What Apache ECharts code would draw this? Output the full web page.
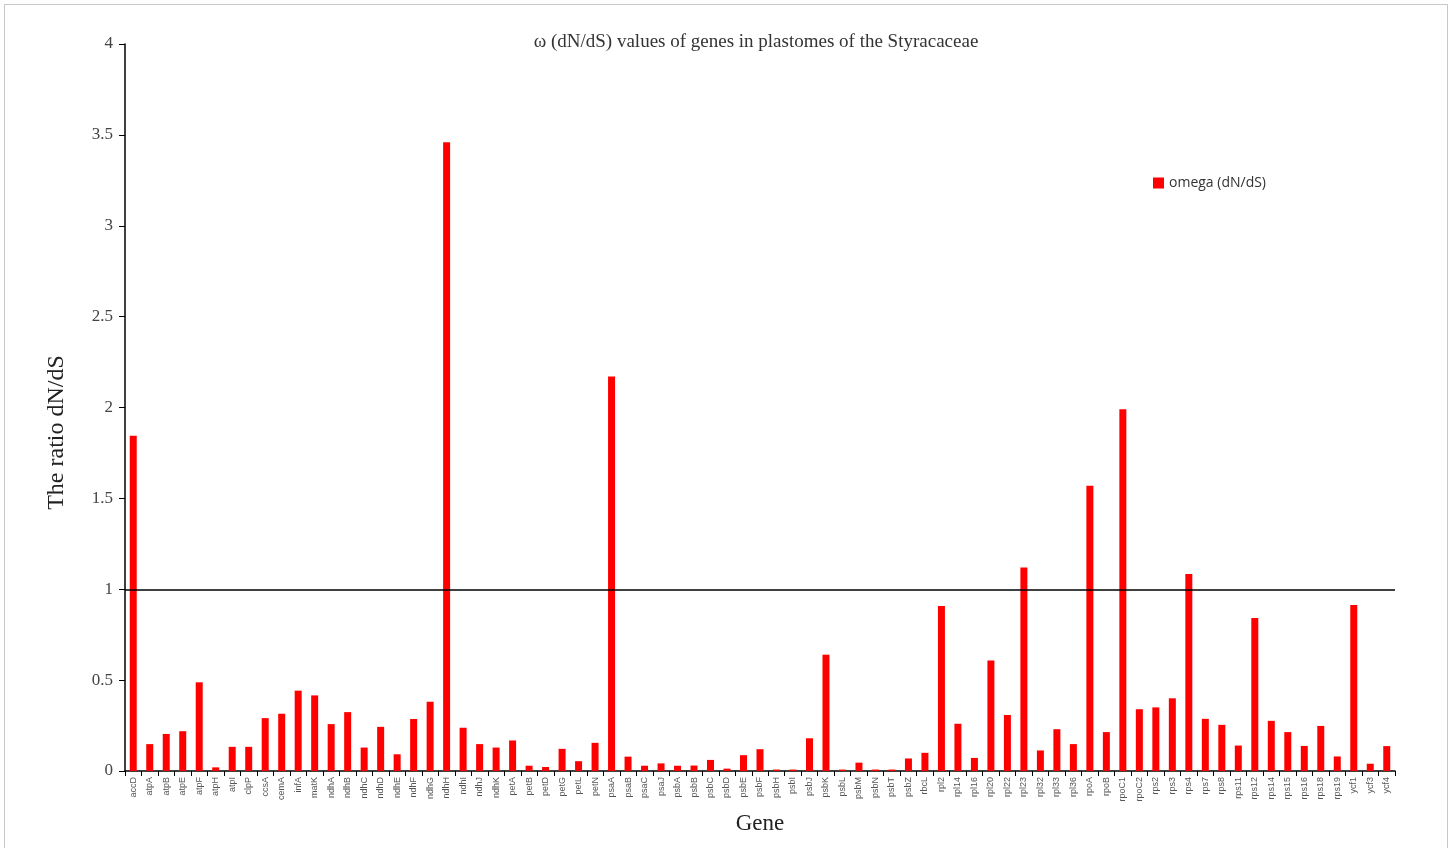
<!DOCTYPE html>
<html>
<head>
<meta charset="utf-8">
<script src="https://cdn.jsdelivr.net/npm/echarts@6/dist/echarts.min.js"></script>
<style>
  html, body { margin: 0; padding: 0; background: #fff; }
  #chart { width: 1453px; height: 848px; }
  .frame {
    position: absolute; left: 4px; top: 4px; width: 1442px; height: 850px;
    border: 1px solid #c8c8c8; pointer-events: none;
  }
</style>
</head>
<body>
<div id="chart"></div>
<div class="frame"></div>
<script>
const genes = ['accD', 'atpA', 'atpB', 'atpE', 'atpF', 'atpH', 'atpI', 'clpP', 'ccsA', 'cemA',
  'infA', 'matK', 'ndhA', 'ndhB', 'ndhC', 'ndhD', 'ndhE', 'ndhF', 'ndhG', 'ndhH',
  'ndhI', 'ndhJ', 'ndhK', 'petA', 'petB', 'petD', 'petG', 'petL', 'petN', 'psaA',
  'psaB', 'psaC', 'psaJ', 'psbA', 'psbB', 'psbC', 'psbD', 'psbE', 'psbF', 'psbH',
  'psbI', 'psbJ', 'psbK', 'psbL', 'psbM', 'psbN', 'psbT', 'psbZ', 'rbcL', 'rpl2',
  'rpl14', 'rpl16', 'rpl20', 'rpl22', 'rpl23', 'rpl32', 'rpl33', 'rpl36', 'rpoA', 'rpoB',
  'rpoC1', 'rpoC2', 'rps2', 'rps3', 'rps4', 'rps7', 'rps8', 'rps11', 'rps12', 'rps14',
  'rps15', 'rps16', 'rps18', 'rps19', 'ycf1', 'ycf3', 'ycf4']

const omega = [1.845, 0.148, 0.204, 0.219, 0.488, 0.02, 0.133, 0.133, 0.291, 0.315,
  0.442, 0.416, 0.258, 0.324, 0.129, 0.243, 0.092, 0.286, 0.381, 3.46,
  0.238, 0.148, 0.129, 0.168, 0.029, 0.022, 0.122, 0.054, 0.155, 2.17,
  0.079, 0.029, 0.042, 0.029, 0.03, 0.061, 0.013, 0.087, 0.12, 0.008,
  0.008, 0.18, 0.64, 0.008, 0.046, 0.008, 0.008, 0.069, 0.1, 0.908,
  0.26, 0.072, 0.608, 0.308, 1.12, 0.113, 0.23, 0.148, 1.57, 0.214,
  1.99, 0.34, 0.35, 0.4, 1.084, 0.287, 0.254, 0.14, 0.842, 0.276,
  0.214, 0.138, 0.248, 0.08, 0.913, 0.04, 0.137]

const yTicks = { min: 0, max: 4, step: 0.5 }
const refLine = 1

const serif = '"Liberation Serif", "DejaVu Serif", serif'

const chart = echarts.init(document.getElementById('chart'))

const options = {
  animation: false,
  title: {
    text: 'ω (dN/dS) values of genes in plastomes of the Styracaceae',
    left: 751,
    textAlign: 'center',
    top: 28,
    textStyle: { fontFamily: serif, fontSize: 19, fontWeight: 'normal', color: '#333' }
  },
  legend: {
    left: 1148,
    top: 171,
    icon: 'rect',
    itemWidth: 11,
    itemHeight: 11,
    itemGap: 4,
    textStyle: { fontFamily: '"Open Sans", "Liberation Sans", sans-serif', fontSize: 14, color: '#333' },
    data: ['omega (dN/dS)']
  },
  grid: {
    left: 125,
    right: 58,
    top: 44,
    bottom: 77
  },
  xAxis: {
    type: 'category',
    data: genes,
    name: 'Gene',
    nameLocation: 'middle',
    nameGap: 41,
    nameTextStyle: { fontFamily: serif, fontSize: 23, color: '#222' },
    axisLine: { lineStyle: { color: '#000', width: 1.5 } },
    axisTick: { show: true, interval: 0, length: 5, lineStyle: { color: '#000' } },
    axisLabel: {
      interval: 0,
      rotate: 90,
      fontFamily: '"Liberation Sans", Arial, sans-serif',
      fontSize: 9,
      color: '#555',
      margin: 6
    }
  },
  yAxis: {
    type: 'value',
    min: yTicks.min,
    max: yTicks.max,
    interval: yTicks.step,
    name: 'The ratio dN/dS',
    nameLocation: 'middle',
    nameGap: 56,
    nameTextStyle: { fontFamily: serif, fontSize: 24, color: '#222', padding: [0, 50, 0, 0] },
    splitLine: { show: false },
    axisLine: { show: true, lineStyle: { color: '#000', width: 1.5 } },
    axisTick: { show: true, length: 6, lineStyle: { color: '#000' } },
    axisLabel: { fontFamily: serif, fontSize: 17, color: '#444', margin: 12 }
  },
  series: [
    {
      name: 'omega (dN/dS)',
      type: 'bar',
      barWidth: 7,
      itemStyle: { color: '#ff0000' },
      data: omega,
      markLine: {
        silent: true,
        symbol: 'none',
        label: { show: false },
        lineStyle: { color: '#000', type: 'solid', width: 1.5 },
        data: [{ yAxis: refLine }]
      }
    }
  ]
}
chart.setOption(options)
</script>
</body>
</html>
